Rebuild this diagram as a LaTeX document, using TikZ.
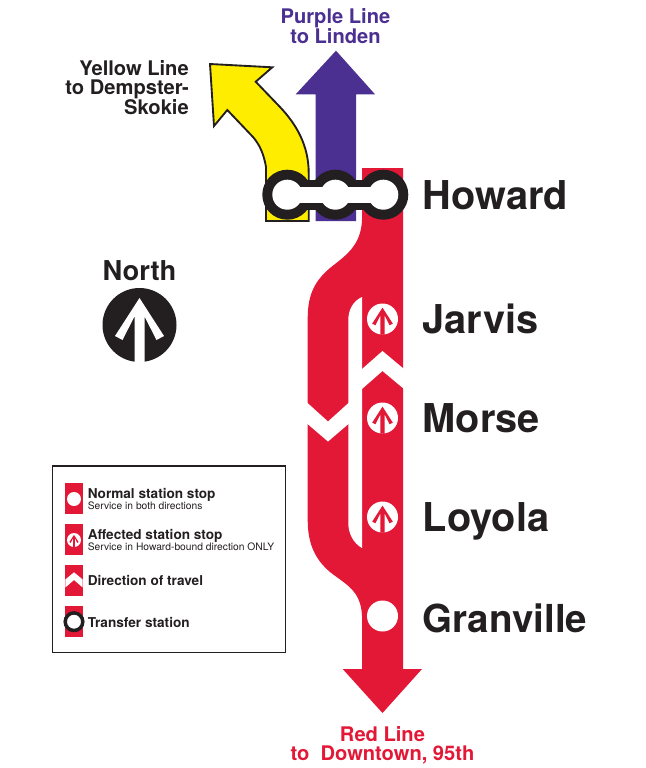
\documentclass[tikz,border=0pt]{standalone}
\usepackage{fontspec}
\setmainfont{TeX Gyre Heros}
\definecolor{ctared}{RGB}{227,24,55}
\definecolor{ctapurple}{RGB}{75,47,145}
\definecolor{ctayellow}{RGB}{255,237,0}
\definecolor{ctablack}{RGB}{35,31,32}
\tikzset{
  stationlabel/.style={anchor=west,inner sep=0pt,text=ctablack,font=\fontsize{29.8}{30}\selectfont\bfseries},
  legendhead/.style={anchor=west,inner sep=0pt,text=ctablack,font=\fontsize{10.2}{11}\selectfont\bfseries},
  legendsub/.style={anchor=west,inner sep=0pt,text=ctablack,font=\fontsize{7.7}{8}\selectfont},
  linelabel/.style={inner sep=0pt,font=\fontsize{15.1}{14.6}\selectfont\bfseries},
  swatch/.style={fill=ctared},
  stationarrow/.pic={
    \fill[pic actions] (0,27) -- (-24.5,-11) -- (-17,-15) -- (-5,8.5) -- (-5,-37) -- (5,-37) -- (5,8.5) -- (17,-15) -- (24.5,-11) -- cycle;
  },
}
\begin{document}
\begin{tikzpicture}[x=0.75pt,y=0.75pt,yscale=-1,xscale=1]
\useasboundingbox (0,0) rectangle (646,768);

%Yellow Line arrow
\draw [ctablack,fill=ctayellow,line width=1.4pt,line join=miter]  (266,221) -- (266,167) .. controls (264,155) and (260,145) .. (253,137) -- (227.3,110) -- (214,126) -- (210,64) -- (272.3,67.3) -- (255.7,81.7) -- (280,107) .. controls (296,124) and (308.7,145) .. (308.7,173) -- (308.7,221) -- cycle ;
%Purple Line arrow
\fill [ctapurple]  (315.7,221) -- (315.7,94.3) -- (295.7,94.3) -- (336,50.7) -- (375,94.3) -- (356,94.3) -- (356,221) -- cycle ;

%Red Line body
\fill [ctared]  (362,168) -- (403,168) -- (403,669) -- (422,669) -- (382.5,713) -- (342.7,669) -- (362,669) -- (362,616) .. controls (361,590) and (345,584) .. (330,572) .. controls (316,560) and (307.7,545) .. (307.7,520) -- (307.7,318) .. controls (307.7,293) and (316,280) .. (330,268) .. controls (345,256) and (361,246) .. (362,220) -- cycle ;
%Gap between the two tracks
\fill [white]  (362,297) .. controls (353,301) and (348.3,310) .. (348.3,320) -- (348.3,523) .. controls (348.3,533) and (353,543) .. (362,548) -- cycle ;
%Direction chevrons
\fill [white]  (307,402.5) -- (328,421.5) -- (349,402.5) -- (349,423.5) -- (328,441.5) -- (307,423.5) -- cycle ;
\fill [white]  (362,369) -- (382.5,351) -- (404,369) -- (404,389) -- (382.5,371) -- (362,389) -- cycle ;

%Stations
\fill [white] (382.5,319) circle [radius=15.5];
\fill [white] (382.5,418) circle [radius=15.5];
\fill [white] (382.5,517) circle [radius=15.5];
\fill [white] (382.5,616) circle [radius=15.5];
\pic [ctared,scale=0.42] at (382.5,319) {stationarrow};
\pic [ctared,scale=0.42] at (382.5,418) {stationarrow};
\pic [ctared,scale=0.42] at (382.5,517) {stationarrow};

%Howard transfer
\fill [ctablack] (287.3,194.7) circle [radius=25];
\fill [ctablack] (335.3,194.7) circle [radius=25];
\fill [ctablack] (383.3,194.7) circle [radius=25];
\fill [ctablack] (287.3,180) rectangle (383.3,210);
\fill [white] (287.3,194.7) circle [radius=15];
\fill [white] (335.3,194.7) circle [radius=15];
\fill [white] (383.3,194.7) circle [radius=15];
\fill [white] (287.3,186.7) rectangle (383.3,202.5);

%North sign
\fill [ctablack] (139.5,325) circle [radius=37];
\pic [white] at (139.5,325) {stationarrow};

%Legend
\draw [ctablack,line width=1pt] (52.7,466) rectangle (285.3,652.3);
\fill [swatch] (65.3,483.3) rectangle (82.7,514.3);
\fill [white] (74,499) circle [radius=7];
\fill [swatch] (65.3,524.3) rectangle (82.7,555.3);
\fill [white] (74,540) circle [radius=7];
\pic [ctared,scale=0.19] at (74,540) {stationarrow};
\fill [swatch] (65.3,565.3) rectangle (82.7,596.3);
\fill [white] (65.3,579.5) -- (74,572.3) -- (82.7,579.5) -- (82.7,587.5) -- (74,580) -- (65.3,587.5) -- cycle ;
\fill [swatch] (65.3,606) rectangle (82.7,637);
\draw [ctablack,fill=white,line width=2.6pt] (74,621.7) circle [radius=8.8];

% Text Node
\node (purplelabel) [linelabel,text=ctapurple,align=center] at (335.5,26) {Purple Line\\to Linden};
\node (yellowlabel) [linelabel,text=ctablack,align=right,anchor=east] at (189,87.5) {Yellow Line\\to Dempster-\\Skokie};
\node (redlabel) [linelabel,text=ctared,align=center] at (382.5,745) {Red Line\\to\ \ Downtown, 95th};
\node (northlabel) [linelabel,text=ctablack,font=\fontsize{20.5}{22}\selectfont\bfseries] at (139.5,271) {North};
\node (howardlabel) [stationlabel] at (422.5,195) {Howard};
\node (jarvislabel) [stationlabel] at (422.5,319) {Jarvis};
\node (morselabel) [stationlabel] at (422.5,418.5) {Morse};
\node (loyolalabel) [stationlabel] at (422.5,521) {Loyola};
\node (granvillelabel) [stationlabel,font=\fontsize{28.9}{30}\selectfont\bfseries] at (422.5,618) {Granville};
\node (normallabel) [legendhead] at (87.5,495) {Normal station stop};
\node (normalsub) [legendsub] at (87.5,506) {Service in both directions};
\node (affectedlabel) [legendhead] at (87.5,536) {Affected station stop};
\node (affectedsub) [legendsub] at (87.5,547) {Service in Howard-bound direction ONLY};
\node (directionlabel) [legendhead] at (87.5,580) {Direction of travel};
\node (transferlabel) [legendhead] at (87.5,622) {Transfer station};
\end{tikzpicture}
\end{document}
